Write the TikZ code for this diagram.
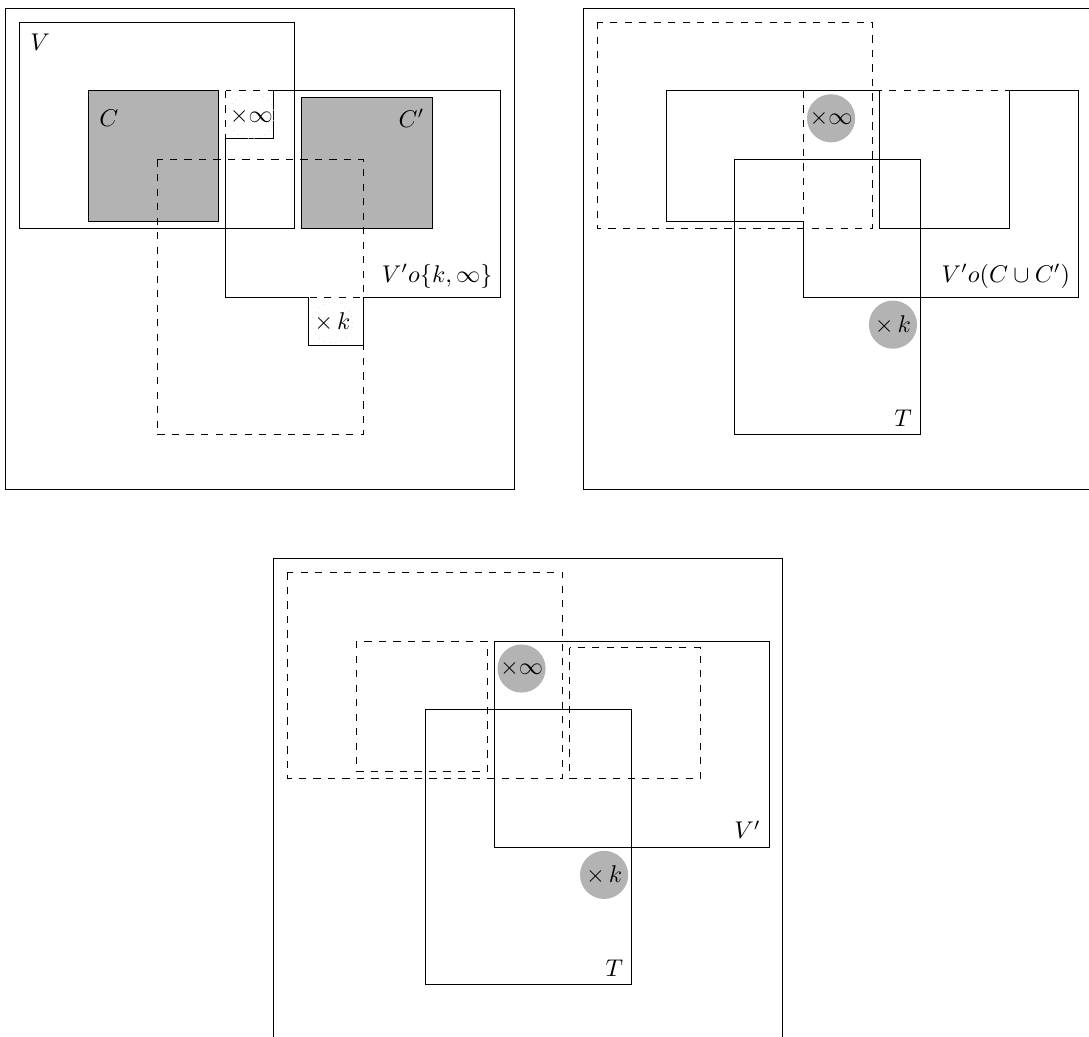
\documentclass[tikz,border=0pt]{standalone}
\usepackage{amsmath}
\usetikzlibrary{positioning}
\definecolor{Shade}{HTML}{B3B3B3}

\begin{document}
\begin{tikzpicture}[y=-1cm,
  frame/.style={draw},
  region/.style={draw},
  hole/.style={draw,dashed},
  core/.style={draw,fill=Shade},
  mult/.style={circle,fill=Shade,minimum size=0.7cm,inner sep=0pt},
  ghost/.style={circle,draw=black!12,dotted,minimum size=0.5cm,inner sep=0pt},
  tag/.style={anchor=south east}
]
\useasboundingbox (-0.083,-0.12) rectangle (15.75,14.95);

% left panel
\begin{scope}
\draw[frame] (0,0) rectangle (7.4,7.0);
\draw[region] (0.2,0.2) rectangle (4.2,3.2);
\draw[core] (1.2,1.2) rectangle (3.1,3.1);
\draw[core] (4.3,1.3) rectangle (6.2,3.2);
\draw[hole] (2.2,2.2) rectangle (5.2,6.2);
\draw[hole] (3.2,1.2) rectangle (7.2,4.2);
\draw[region] (3.2,1.9) -- (3.9,1.9) -- (3.9,1.2) -- (7.2,1.2) -- (7.2,4.2)
  -- (5.2,4.2) -- (5.2,4.9) -- (4.4,4.9) -- (4.4,4.2) -- (3.2,4.2) -- cycle;
\node (lV) at (0.5,0.5) {$V$};
\node (lC) at (1.5,1.6) {$C$};
\node (lCp) at (5.9,1.6) {$C'$};
\node[tag] (lVk) at (7.2,4.2) {$V'o\{k,\infty\}$};
\node[ghost] (inf1) at (3.57,1.57) {$\times\infty$};
\node[ghost] (k1) at (4.75,4.57) {$\times\,k$};
\end{scope}

% right panel
\begin{scope}[shift={(8.4,0)}]
\draw[frame] (0,0) rectangle (7.4,7.0);
\draw[hole] (0.2,0.2) rectangle (4.2,3.2);
\draw[hole] (3.2,1.2) rectangle (7.2,4.2);
\draw[region] (1.2,1.2) -- (4.3,1.2) -- (4.3,3.2) -- (6.2,3.2) -- (6.2,1.2)
  -- (7.2,1.2) -- (7.2,4.2) -- (3.2,4.2) -- (3.2,3.1) -- (1.2,3.1) -- cycle;
\draw[region] (2.2,2.2) rectangle (4.9,6.2);
\node[tag] (lVC) at (7.2,4.2) {$V'o(C\cup C')$};
\node[tag] (lT2) at (4.9,6.2) {$T$};
\node[mult] (inf2) at (3.6,1.6) {$\times\infty$};
\node[mult] (k2) at (4.5,4.6) {$\times\,k$};
\end{scope}

% bottom panel
\begin{scope}[shift={(3.9,8.0)}]
\draw[frame] (0,0) rectangle (7.4,7.0);
\draw[hole] (0.2,0.2) rectangle (4.2,3.2);
\draw[hole] (1.2,1.2) rectangle (3.1,3.1);
\draw[hole] (4.3,1.3) rectangle (6.2,3.2);
\draw[region] (3.2,1.2) rectangle (7.2,4.2);
\draw[region] (2.2,2.2) rectangle (5.2,6.2);
\node[tag] (lVp) at (7.2,4.2) {$V'$};
\node[tag] (lT3) at (5.2,6.2) {$T$};
\node[mult] (inf3) at (3.6,1.6) {$\times\infty$};
\node[mult] (k3) at (4.8,4.6) {$\times\,k$};
\end{scope}
\end{tikzpicture}
\end{document}
